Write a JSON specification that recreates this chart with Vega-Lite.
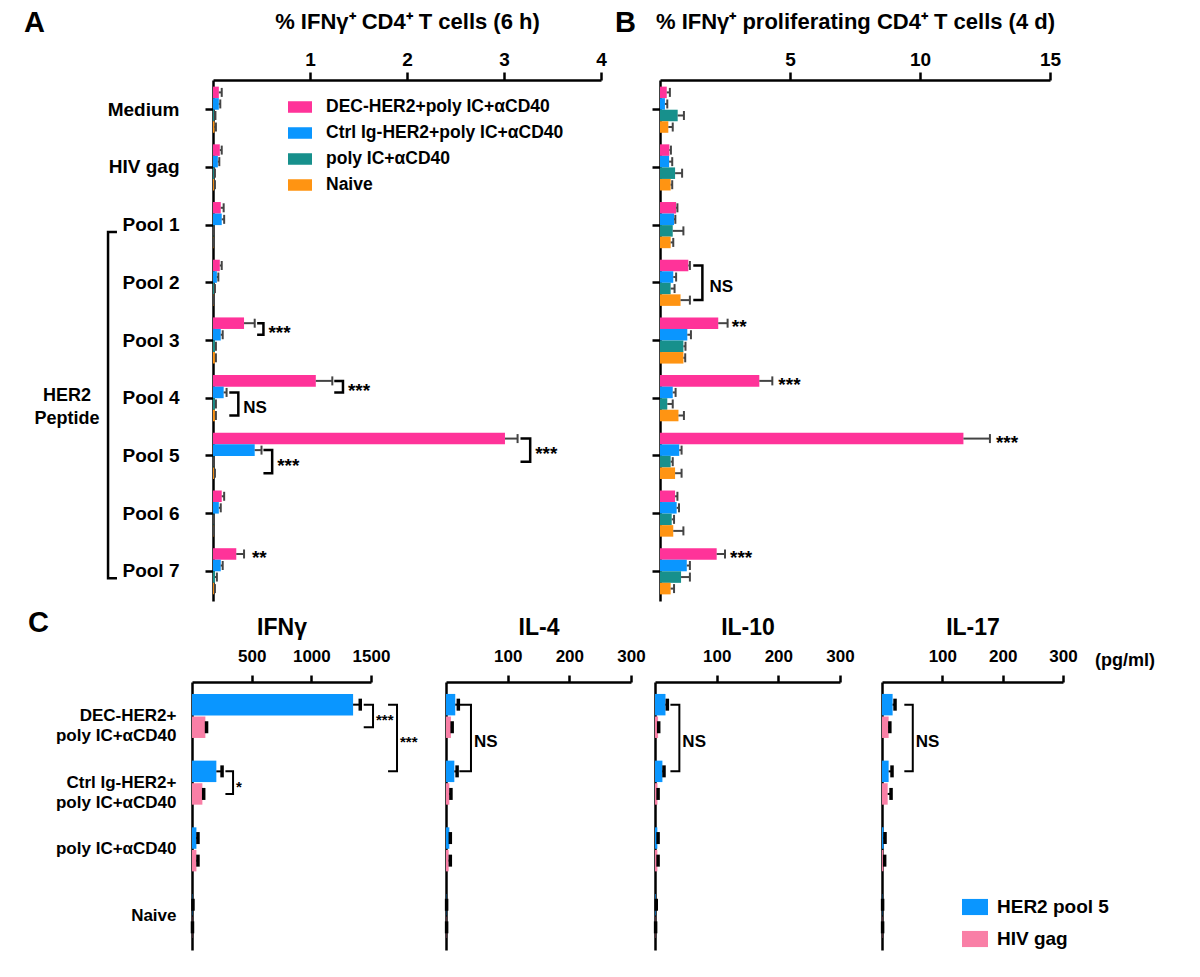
{
"$schema": "https://vega.github.io/schema/vega-lite/v6.json",
"padding": {"left": 24, "top": 9, "right": 10, "bottom": 5},
"config": {
  "font": "Liberation Sans",
  "view": {"stroke": null},
  "axis": {"grid": false, "domainColor": "#000", "domainWidth": 2.5, "tickColor": "#000", "tickWidth": 2.5, "labelColor": "#000", "labelFontWeight": "bold", "titleColor": "#000", "titleFontWeight": "bold", "labelFont": "Liberation Sans", "titleFont": "Liberation Sans"},
  "title": {"font": "Liberation Sans", "fontWeight": "bold", "color": "#000", "offset": 0}
},
"datasets": {
  "A": [
    {"cat":"Medium","grp":"DEC-HER2+poly IC+αCD40","v":0.06,"hi":0.09},
    {"cat":"Medium","grp":"Ctrl Ig-HER2+poly IC+αCD40","v":0.06,"hi":0.075},
    {"cat":"Medium","grp":"poly IC+αCD40","v":0.01,"hi":0.025},
    {"cat":"Medium","grp":"Naive","v":0.015,"hi":0.03},
    {"cat":"HIV gag","grp":"DEC-HER2+poly IC+αCD40","v":0.07,"hi":0.09},
    {"cat":"HIV gag","grp":"Ctrl Ig-HER2+poly IC+αCD40","v":0.05,"hi":0.065},
    {"cat":"HIV gag","grp":"poly IC+αCD40","v":0.01,"hi":0.02},
    {"cat":"HIV gag","grp":"Naive","v":0.01,"hi":0.02},
    {"cat":"Pool 1","grp":"DEC-HER2+poly IC+αCD40","v":0.08,"hi":0.11},
    {"cat":"Pool 1","grp":"Ctrl Ig-HER2+poly IC+αCD40","v":0.09,"hi":0.115},
    {"cat":"Pool 1","grp":"poly IC+αCD40","v":0.005,"hi":0.01},
    {"cat":"Pool 1","grp":"Naive","v":0.005,"hi":0.01},
    {"cat":"Pool 2","grp":"DEC-HER2+poly IC+αCD40","v":0.07,"hi":0.09},
    {"cat":"Pool 2","grp":"Ctrl Ig-HER2+poly IC+αCD40","v":0.04,"hi":0.055},
    {"cat":"Pool 2","grp":"poly IC+αCD40","v":0.01,"hi":0.02},
    {"cat":"Pool 2","grp":"Naive","v":0.005,"hi":0.01},
    {"cat":"Pool 3","grp":"DEC-HER2+poly IC+αCD40","v":0.32,"hi":0.43},
    {"cat":"Pool 3","grp":"Ctrl Ig-HER2+poly IC+αCD40","v":0.08,"hi":0.10},
    {"cat":"Pool 3","grp":"poly IC+αCD40","v":0.02,"hi":0.03},
    {"cat":"Pool 3","grp":"Naive","v":0.02,"hi":0.03},
    {"cat":"Pool 4","grp":"DEC-HER2+poly IC+αCD40","v":1.06,"hi":1.23},
    {"cat":"Pool 4","grp":"Ctrl Ig-HER2+poly IC+αCD40","v":0.11,"hi":0.14},
    {"cat":"Pool 4","grp":"poly IC+αCD40","v":0.02,"hi":0.03},
    {"cat":"Pool 4","grp":"Naive","v":0.02,"hi":0.03},
    {"cat":"Pool 5","grp":"DEC-HER2+poly IC+αCD40","v":3.01,"hi":3.14},
    {"cat":"Pool 5","grp":"Ctrl Ig-HER2+poly IC+αCD40","v":0.43,"hi":0.50},
    {"cat":"Pool 5","grp":"poly IC+αCD40","v":0.005,"hi":0.01},
    {"cat":"Pool 5","grp":"Naive","v":0.01,"hi":0.02},
    {"cat":"Pool 6","grp":"DEC-HER2+poly IC+αCD40","v":0.09,"hi":0.115},
    {"cat":"Pool 6","grp":"Ctrl Ig-HER2+poly IC+αCD40","v":0.06,"hi":0.08},
    {"cat":"Pool 6","grp":"poly IC+αCD40","v":0.005,"hi":0.01},
    {"cat":"Pool 6","grp":"Naive","v":0.005,"hi":0.01},
    {"cat":"Pool 7","grp":"DEC-HER2+poly IC+αCD40","v":0.24,"hi":0.32},
    {"cat":"Pool 7","grp":"Ctrl Ig-HER2+poly IC+αCD40","v":0.08,"hi":0.10},
    {"cat":"Pool 7","grp":"poly IC+αCD40","v":0.02,"hi":0.04},
    {"cat":"Pool 7","grp":"Naive","v":0.01,"hi":0.02}
  ],
  "B": [
    {"cat":"Medium","grp":"DEC-HER2+poly IC+αCD40","v":0.26,"hi":0.38},
    {"cat":"Medium","grp":"Ctrl Ig-HER2+poly IC+αCD40","v":0.19,"hi":0.28},
    {"cat":"Medium","grp":"poly IC+αCD40","v":0.68,"hi":0.92},
    {"cat":"Medium","grp":"Naive","v":0.32,"hi":0.49},
    {"cat":"HIV gag","grp":"DEC-HER2+poly IC+αCD40","v":0.36,"hi":0.42},
    {"cat":"HIV gag","grp":"Ctrl Ig-HER2+poly IC+αCD40","v":0.35,"hi":0.47},
    {"cat":"HIV gag","grp":"poly IC+αCD40","v":0.58,"hi":0.85},
    {"cat":"HIV gag","grp":"Naive","v":0.41,"hi":0.47},
    {"cat":"Pool 1","grp":"DEC-HER2+poly IC+αCD40","v":0.62,"hi":0.67},
    {"cat":"Pool 1","grp":"Ctrl Ig-HER2+poly IC+αCD40","v":0.54,"hi":0.59},
    {"cat":"Pool 1","grp":"poly IC+αCD40","v":0.49,"hi":0.90},
    {"cat":"Pool 1","grp":"Naive","v":0.41,"hi":0.51},
    {"cat":"Pool 2","grp":"DEC-HER2+poly IC+αCD40","v":1.09,"hi":1.15},
    {"cat":"Pool 2","grp":"Ctrl Ig-HER2+poly IC+αCD40","v":0.51,"hi":0.62},
    {"cat":"Pool 2","grp":"poly IC+αCD40","v":0.41,"hi":0.56},
    {"cat":"Pool 2","grp":"Naive","v":0.79,"hi":1.15},
    {"cat":"Pool 3","grp":"DEC-HER2+poly IC+αCD40","v":2.24,"hi":2.60},
    {"cat":"Pool 3","grp":"Ctrl Ig-HER2+poly IC+αCD40","v":1.05,"hi":1.19},
    {"cat":"Pool 3","grp":"poly IC+αCD40","v":0.90,"hi":0.98},
    {"cat":"Pool 3","grp":"Naive","v":0.90,"hi":0.97},
    {"cat":"Pool 4","grp":"DEC-HER2+poly IC+αCD40","v":3.82,"hi":4.32},
    {"cat":"Pool 4","grp":"Ctrl Ig-HER2+poly IC+αCD40","v":0.49,"hi":0.60},
    {"cat":"Pool 4","grp":"poly IC+αCD40","v":0.28,"hi":0.49},
    {"cat":"Pool 4","grp":"Naive","v":0.71,"hi":0.92},
    {"cat":"Pool 5","grp":"DEC-HER2+poly IC+αCD40","v":11.67,"hi":12.69},
    {"cat":"Pool 5","grp":"Ctrl Ig-HER2+poly IC+αCD40","v":0.74,"hi":0.83},
    {"cat":"Pool 5","grp":"poly IC+αCD40","v":0.41,"hi":0.49},
    {"cat":"Pool 5","grp":"Naive","v":0.58,"hi":0.83},
    {"cat":"Pool 6","grp":"DEC-HER2+poly IC+αCD40","v":0.58,"hi":0.67},
    {"cat":"Pool 6","grp":"Ctrl Ig-HER2+poly IC+αCD40","v":0.64,"hi":0.73},
    {"cat":"Pool 6","grp":"poly IC+αCD40","v":0.45,"hi":0.54},
    {"cat":"Pool 6","grp":"Naive","v":0.51,"hi":0.90},
    {"cat":"Pool 7","grp":"DEC-HER2+poly IC+αCD40","v":2.18,"hi":2.50},
    {"cat":"Pool 7","grp":"Ctrl Ig-HER2+poly IC+αCD40","v":1.03,"hi":1.15},
    {"cat":"Pool 7","grp":"poly IC+αCD40","v":0.81,"hi":1.15},
    {"cat":"Pool 7","grp":"Naive","v":0.41,"hi":0.54}
  ],
  "brA": [
    {"cat":"Pool 3","cls":"pb","xb":0.52,"label":"***"},
    {"cat":"Pool 4","cls":"pb","xb":1.34,"label":"***"},
    {"cat":"Pool 4","cls":"bo","xb":0.261,"label":"NS"},
    {"cat":"Pool 5","cls":"pt","xb":3.27,"label":"***"},
    {"cat":"Pool 5","cls":"bo","xb":0.61,"label":"***"},
    {"cat":"Pool 7","cls":"p","xb":0.35,"label":"**"}
  ],
  "brkA": [
    {"id":"a1","k":1,"cat":"Pool 3","grp":"DEC-HER2+poly IC+αCD40","x":0.455},
    {"id":"a1","k":2,"cat":"Pool 3","grp":"DEC-HER2+poly IC+αCD40","x":0.52},
    {"id":"a1","k":3,"cat":"Pool 3","grp":"Ctrl Ig-HER2+poly IC+αCD40","x":0.52},
    {"id":"a1","k":4,"cat":"Pool 3","grp":"Ctrl Ig-HER2+poly IC+αCD40","x":0.455},
    {"id":"a2","k":1,"cat":"Pool 4","grp":"DEC-HER2+poly IC+αCD40","x":1.25},
    {"id":"a2","k":2,"cat":"Pool 4","grp":"DEC-HER2+poly IC+αCD40","x":1.34},
    {"id":"a2","k":3,"cat":"Pool 4","grp":"Ctrl Ig-HER2+poly IC+αCD40","x":1.34},
    {"id":"a2","k":4,"cat":"Pool 4","grp":"Ctrl Ig-HER2+poly IC+αCD40","x":1.25},
    {"id":"a3","k":1,"cat":"Pool 4","grp":"Ctrl Ig-HER2+poly IC+αCD40","x":0.168},
    {"id":"a3","k":2,"cat":"Pool 4","grp":"Ctrl Ig-HER2+poly IC+αCD40","x":0.261},
    {"id":"a3","k":3,"cat":"Pool 4","grp":"Naive","x":0.261},
    {"id":"a3","k":4,"cat":"Pool 4","grp":"Naive","x":0.168},
    {"id":"a4","k":1,"cat":"Pool 5","grp":"DEC-HER2+poly IC+αCD40","x":3.17},
    {"id":"a4","k":2,"cat":"Pool 5","grp":"DEC-HER2+poly IC+αCD40","x":3.27},
    {"id":"a4","k":3,"cat":"Pool 5","grp":"poly IC+αCD40","x":3.27},
    {"id":"a4","k":4,"cat":"Pool 5","grp":"poly IC+αCD40","x":3.17},
    {"id":"a5","k":1,"cat":"Pool 5","grp":"Ctrl Ig-HER2+poly IC+αCD40","x":0.52},
    {"id":"a5","k":2,"cat":"Pool 5","grp":"Ctrl Ig-HER2+poly IC+αCD40","x":0.61},
    {"id":"a5","k":3,"cat":"Pool 5","grp":"Naive","x":0.61},
    {"id":"a5","k":4,"cat":"Pool 5","grp":"Naive","x":0.52}
  ],
  "her2": [
    {"k":1,"cat":"Pool 1","x":-0.99},
    {"k":2,"cat":"Pool 1","x":-1.082},
    {"k":3,"cat":"Pool 7","x":-1.082},
    {"k":4,"cat":"Pool 7","x":-0.99}
  ],
  "brB": [
    {"cat":"Pool 2","cls":"po","xb":1.63,"label":"NS"},
    {"cat":"Pool 3","cls":"p","xb":2.57,"label":"**"},
    {"cat":"Pool 4","cls":"p","xb":4.36,"label":"***"},
    {"cat":"Pool 5","cls":"p","xb":12.73,"label":"***"},
    {"cat":"Pool 7","cls":"p","xb":2.5,"label":"***"}
  ],
  "brkB": [
    {"id":"b1","k":1,"cat":"Pool 2","grp":"DEC-HER2+poly IC+αCD40","x":1.28},
    {"id":"b1","k":2,"cat":"Pool 2","grp":"DEC-HER2+poly IC+αCD40","x":1.63},
    {"id":"b1","k":3,"cat":"Pool 2","grp":"Naive","x":1.63},
    {"id":"b1","k":4,"cat":"Pool 2","grp":"Naive","x":1.28}
  ],
  "C": [
    {"cyt":"IFNγ","cat":"DEC-HER2+ poly IC+αCD40","grp":"HER2 pool 5","v":1350,"hi":1410},
    {"cyt":"IFNγ","cat":"DEC-HER2+ poly IC+αCD40","grp":"HIV gag","v":112,"hi":122},
    {"cyt":"IFNγ","cat":"Ctrl Ig-HER2+ poly IC+αCD40","grp":"HER2 pool 5","v":204,"hi":252},
    {"cyt":"IFNγ","cat":"Ctrl Ig-HER2+ poly IC+αCD40","grp":"HIV gag","v":87,"hi":98},
    {"cyt":"IFNγ","cat":"poly IC+αCD40","grp":"HER2 pool 5","v":37,"hi":50},
    {"cyt":"IFNγ","cat":"poly IC+αCD40","grp":"HIV gag","v":37,"hi":50},
    {"cyt":"IFNγ","cat":"Naive","grp":"HER2 pool 5","v":3,"hi":8},
    {"cyt":"IFNγ","cat":"Naive","grp":"HIV gag","v":2,"hi":4},
    {"cyt":"IL-4","cat":"DEC-HER2+ poly IC+αCD40","grp":"HER2 pool 5","v":15,"hi":20},
    {"cyt":"IL-4","cat":"DEC-HER2+ poly IC+αCD40","grp":"HIV gag","v":8,"hi":10},
    {"cyt":"IL-4","cat":"Ctrl Ig-HER2+ poly IC+αCD40","grp":"HER2 pool 5","v":13.5,"hi":18},
    {"cyt":"IL-4","cat":"Ctrl Ig-HER2+ poly IC+αCD40","grp":"HIV gag","v":5.4,"hi":8},
    {"cyt":"IL-4","cat":"poly IC+αCD40","grp":"HER2 pool 5","v":5.4,"hi":7},
    {"cyt":"IL-4","cat":"poly IC+αCD40","grp":"HIV gag","v":4.3,"hi":7},
    {"cyt":"IL-4","cat":"Naive","grp":"HER2 pool 5","v":0.5,"hi":1},
    {"cyt":"IL-4","cat":"Naive","grp":"HIV gag","v":0.5,"hi":1},
    {"cyt":"IL-10","cat":"DEC-HER2+ poly IC+αCD40","grp":"HER2 pool 5","v":17,"hi":20},
    {"cyt":"IL-10","cat":"DEC-HER2+ poly IC+αCD40","grp":"HIV gag","v":5,"hi":6},
    {"cyt":"IL-10","cat":"Ctrl Ig-HER2+ poly IC+αCD40","grp":"HER2 pool 5","v":12,"hi":14.6},
    {"cyt":"IL-10","cat":"Ctrl Ig-HER2+ poly IC+αCD40","grp":"HIV gag","v":4,"hi":5},
    {"cyt":"IL-10","cat":"poly IC+αCD40","grp":"HER2 pool 5","v":3.8,"hi":5},
    {"cyt":"IL-10","cat":"poly IC+αCD40","grp":"HIV gag","v":3.8,"hi":5},
    {"cyt":"IL-10","cat":"Naive","grp":"HER2 pool 5","v":1,"hi":2},
    {"cyt":"IL-10","cat":"Naive","grp":"HIV gag","v":0.5,"hi":1},
    {"cyt":"IL-17","cat":"DEC-HER2+ poly IC+αCD40","grp":"HER2 pool 5","v":17.6,"hi":21.6},
    {"cyt":"IL-17","cat":"DEC-HER2+ poly IC+αCD40","grp":"HIV gag","v":11,"hi":13},
    {"cyt":"IL-17","cat":"Ctrl Ig-HER2+ poly IC+αCD40","grp":"HER2 pool 5","v":11,"hi":16.6},
    {"cyt":"IL-17","cat":"Ctrl Ig-HER2+ poly IC+αCD40","grp":"HIV gag","v":9.4,"hi":15},
    {"cyt":"IL-17","cat":"poly IC+αCD40","grp":"HER2 pool 5","v":2.7,"hi":5},
    {"cyt":"IL-17","cat":"poly IC+αCD40","grp":"HIV gag","v":2.2,"hi":4.4},
    {"cyt":"IL-17","cat":"Naive","grp":"HER2 pool 5","v":0.5,"hi":1},
    {"cyt":"IL-17","cat":"Naive","grp":"HIV gag","v":0.5,"hi":1}
  ],
  "brC": [
    {"cyt":"IFNγ","cat":"DEC-HER2+ poly IC+αCD40","cls":"bp","xb":1517,"label":"***"},
    {"cyt":"IFNγ","cat":"DEC-HER2+ poly IC+αCD40","cls":"big","xb":1718,"label":"***"},
    {"cyt":"IFNγ","cat":"Ctrl Ig-HER2+ poly IC+αCD40","cls":"bp","xb":344,"label":"*"},
    {"cyt":"IL-4","cat":"DEC-HER2+ poly IC+αCD40","cls":"big","xb":40.5,"label":"NS"},
    {"cyt":"IL-10","cat":"DEC-HER2+ poly IC+αCD40","cls":"big","xb":39.5,"label":"NS"},
    {"cyt":"IL-17","cat":"DEC-HER2+ poly IC+αCD40","cls":"big","xb":51,"label":"NS"}
  ],
  "brkC": [
    {"cyt":"IFNγ","id":"c1","k":1,"cat":"DEC-HER2+ poly IC+αCD40","grp":"HER2 pool 5","x":1439},
    {"cyt":"IFNγ","id":"c1","k":2,"cat":"DEC-HER2+ poly IC+αCD40","grp":"HER2 pool 5","x":1517},
    {"cyt":"IFNγ","id":"c1","k":3,"cat":"DEC-HER2+ poly IC+αCD40","grp":"HIV gag","x":1517},
    {"cyt":"IFNγ","id":"c1","k":4,"cat":"DEC-HER2+ poly IC+αCD40","grp":"HIV gag","x":1439},
    {"cyt":"IFNγ","id":"c2","k":1,"cat":"DEC-HER2+ poly IC+αCD40","grp":"HER2 pool 5","x":1643},
    {"cyt":"IFNγ","id":"c2","k":2,"cat":"DEC-HER2+ poly IC+αCD40","grp":"HER2 pool 5","x":1718},
    {"cyt":"IFNγ","id":"c2","k":3,"cat":"Ctrl Ig-HER2+ poly IC+αCD40","grp":"HER2 pool 5","x":1718},
    {"cyt":"IFNγ","id":"c2","k":4,"cat":"Ctrl Ig-HER2+ poly IC+αCD40","grp":"HER2 pool 5","x":1643},
    {"cyt":"IFNγ","id":"c3","k":1,"cat":"Ctrl Ig-HER2+ poly IC+αCD40","grp":"HER2 pool 5","x":280},
    {"cyt":"IFNγ","id":"c3","k":2,"cat":"Ctrl Ig-HER2+ poly IC+αCD40","grp":"HER2 pool 5","x":344},
    {"cyt":"IFNγ","id":"c3","k":3,"cat":"Ctrl Ig-HER2+ poly IC+αCD40","grp":"HIV gag","x":344},
    {"cyt":"IFNγ","id":"c3","k":4,"cat":"Ctrl Ig-HER2+ poly IC+αCD40","grp":"HIV gag","x":280},
    {"cyt":"IL-4","id":"c4","k":1,"cat":"DEC-HER2+ poly IC+αCD40","grp":"HER2 pool 5","x":21.6},
    {"cyt":"IL-4","id":"c4","k":2,"cat":"DEC-HER2+ poly IC+αCD40","grp":"HER2 pool 5","x":40.5},
    {"cyt":"IL-4","id":"c4","k":3,"cat":"Ctrl Ig-HER2+ poly IC+αCD40","grp":"HER2 pool 5","x":40.5},
    {"cyt":"IL-4","id":"c4","k":4,"cat":"Ctrl Ig-HER2+ poly IC+αCD40","grp":"HER2 pool 5","x":21.6},
    {"cyt":"IL-10","id":"c5","k":1,"cat":"DEC-HER2+ poly IC+αCD40","grp":"HER2 pool 5","x":25},
    {"cyt":"IL-10","id":"c5","k":2,"cat":"DEC-HER2+ poly IC+αCD40","grp":"HER2 pool 5","x":39.5},
    {"cyt":"IL-10","id":"c5","k":3,"cat":"Ctrl Ig-HER2+ poly IC+αCD40","grp":"HER2 pool 5","x":39.5},
    {"cyt":"IL-10","id":"c5","k":4,"cat":"Ctrl Ig-HER2+ poly IC+αCD40","grp":"HER2 pool 5","x":25},
    {"cyt":"IL-17","id":"c6","k":1,"cat":"DEC-HER2+ poly IC+αCD40","grp":"HER2 pool 5","x":37},
    {"cyt":"IL-17","id":"c6","k":2,"cat":"DEC-HER2+ poly IC+αCD40","grp":"HER2 pool 5","x":51},
    {"cyt":"IL-17","id":"c6","k":3,"cat":"Ctrl Ig-HER2+ poly IC+αCD40","grp":"HER2 pool 5","x":51},
    {"cyt":"IL-17","id":"c6","k":4,"cat":"Ctrl Ig-HER2+ poly IC+αCD40","grp":"HER2 pool 5","x":37}
  ]
},
"resolve": {"scale": {"color": "independent", "yOffset": "independent"}, "legend": {"color": "independent"}},
"bounds": "full",
"spacing": 7,
"vconcat": [
 {
  "bounds": "flush", "spacing": 0,
  "resolve": {"scale": {"color": "independent", "yOffset": "independent"}, "legend": {"color": "independent"}},
  "hconcat": [
   {"width": 21, "height": 10, "data": {"values": [{}]}, "mark": {"type": "text", "text": ""}, "encoding": {}},
   {
    "bounds": "flush", "spacing": 59,
    "resolve": {"scale": {"color": "independent", "yOffset": "independent"}, "legend": {"color": "independent"}},
    "hconcat": [
     {
      "width": 388, "height": 521,
      "title": {"text": "A", "anchor": "start", "frame": "group", "dx": -189, "dy": 32, "fontSize": 29},
      "layer": [
       {"data": {"name": "A"}, "mark": {"type": "bar", "opacity": 1},
        "encoding": {
         "y": {"field": "cat", "type": "nominal", "scale": {"domain": ["Medium","HIV gag","Pool 1","Pool 2","Pool 3","Pool 4","Pool 5","Pool 6","Pool 7"], "paddingInner": 0.2, "paddingOuter": 0.115},
               "axis": {"title": null, "labelFontSize": 19, "tickSize": 8, "labelPadding": 26, "labelOverlap": false}},
         "yOffset": {"field": "grp", "type": "nominal", "scale": {"domain": ["DEC-HER2+poly IC+αCD40","Ctrl Ig-HER2+poly IC+αCD40","poly IC+αCD40","Naive"], "paddingInner": 0, "paddingOuter": 0}},
         "x": {"field": "v", "type": "quantitative", "stack": null, "scale": {"domain": [0, 4], "nice": false, "zero": false},
               "axis": {"orient": "top", "values": [1,2,3,4], "format": "d", "title": "% IFNγ⁺ CD4⁺ T cells (6 h)", "titleFontSize": 22, "labelFontSize": 19, "tickSize": 8, "labelPadding": 3, "titlePadding": 17, "labelFlush": false, "labelOverlap": false}},
         "color": {"field": "grp", "type": "nominal", "scale": {"domain": ["DEC-HER2+poly IC+αCD40","Ctrl Ig-HER2+poly IC+αCD40","poly IC+αCD40","Naive"], "range": ["#FF3399","#0A96FF","#17908C","#FF9412"]},
               "legend": {"orient": "none", "legendX": 75, "legendY": 15, "direction": "vertical", "title": null, "symbolType": "M-1,-0.48H1V0.48H-1Z", "symbolSize": 576, "symbolStrokeWidth": 0, "labelFontSize": 17.5, "labelFontWeight": "bold", "labelFont": "Liberation Sans", "labelColor": "#000", "labelOffset": 14, "rowPadding": 5, "labelLimit": 500}}
        }},
       {"data": {"name": "A"}, "mark": {"type": "rule", "color": "#444", "strokeWidth": 2, "opacity": 1},
        "encoding": {
         "y": {"field": "cat", "type": "nominal", "scale": {"domain": ["Medium","HIV gag","Pool 1","Pool 2","Pool 3","Pool 4","Pool 5","Pool 6","Pool 7"], "paddingInner": 0.2, "paddingOuter": 0.115}},
         "yOffset": {"field": "grp", "type": "nominal", "scale": {"domain": ["DEC-HER2+poly IC+αCD40","Ctrl Ig-HER2+poly IC+αCD40","poly IC+αCD40","Naive"], "paddingInner": 0, "paddingOuter": 0}},
         "x": {"field": "v", "type": "quantitative", "scale": {"domain": [0, 4], "nice": false, "zero": false}},
         "x2": {"field": "hi"}
        }},
       {"data": {"name": "A"}, "mark": {"type": "tick", "color": "#444", "thickness": 2, "size": 9, "opacity": 1},
        "encoding": {
         "y": {"field": "cat", "type": "nominal", "scale": {"domain": ["Medium","HIV gag","Pool 1","Pool 2","Pool 3","Pool 4","Pool 5","Pool 6","Pool 7"], "paddingInner": 0.2, "paddingOuter": 0.115}},
         "yOffset": {"field": "grp", "type": "nominal", "scale": {"domain": ["DEC-HER2+poly IC+αCD40","Ctrl Ig-HER2+poly IC+αCD40","poly IC+αCD40","Naive"], "paddingInner": 0, "paddingOuter": 0}},
         "x": {"field": "hi", "type": "quantitative", "scale": {"domain": [0, 4], "nice": false, "zero": false}}
        }},
       {"data": {"name": "brkA"}, "mark": {"type": "line", "color": "#000", "strokeWidth": 2.5, "strokeJoin": "miter", "opacity": 1},
        "encoding": {
         "y": {"field": "cat", "type": "nominal", "scale": {"domain": ["Medium","HIV gag","Pool 1","Pool 2","Pool 3","Pool 4","Pool 5","Pool 6","Pool 7"], "paddingInner": 0.2, "paddingOuter": 0.115}},
         "yOffset": {"field": "grp", "type": "nominal", "scale": {"domain": ["DEC-HER2+poly IC+αCD40","Ctrl Ig-HER2+poly IC+αCD40","poly IC+αCD40","Naive"], "paddingInner": 0, "paddingOuter": 0}},
         "x": {"field": "x", "type": "quantitative", "scale": {"domain": [0, 4], "nice": false, "zero": false}},
         "detail": {"field": "id"},
         "order": {"field": "k"}
        }},
       {"data": {"name": "brA"}, "transform": [{"filter": "datum.cls == 'pb'"}],
        "mark": {"type": "text", "align": "left", "baseline": "middle", "dx": 5, "dy": 4, "fontWeight": "bold", "opacity": 1},
        "encoding": {
         "y": {"field": "cat", "type": "nominal", "bandPosition": 0.25, "scale": {"domain": ["Medium","HIV gag","Pool 1","Pool 2","Pool 3","Pool 4","Pool 5","Pool 6","Pool 7"], "paddingInner": 0.2, "paddingOuter": 0.115}},
         "x": {"field": "xb", "type": "quantitative", "scale": {"domain": [0, 4], "nice": false, "zero": false}},
         "text": {"field": "label"},
         "size": {"condition": {"test": "datum.label == 'NS'", "value": 17}, "value": 19}
        }},
       {"data": {"name": "brA"}, "transform": [{"filter": "datum.cls == 'pt'"}],
        "mark": {"type": "text", "align": "left", "baseline": "middle", "dx": 5, "dy": 4, "fontWeight": "bold", "opacity": 1},
        "encoding": {
         "y": {"field": "cat", "type": "nominal", "bandPosition": 0.375, "scale": {"domain": ["Medium","HIV gag","Pool 1","Pool 2","Pool 3","Pool 4","Pool 5","Pool 6","Pool 7"], "paddingInner": 0.2, "paddingOuter": 0.115}},
         "x": {"field": "xb", "type": "quantitative", "scale": {"domain": [0, 4], "nice": false, "zero": false}},
         "text": {"field": "label"},
         "size": {"condition": {"test": "datum.label == 'NS'", "value": 17}, "value": 19}
        }},
       {"data": {"name": "brA"}, "transform": [{"filter": "datum.cls == 'bo'"}],
        "mark": {"type": "text", "align": "left", "baseline": "middle", "dx": 5, "dy": 4, "fontWeight": "bold", "opacity": 1},
        "encoding": {
         "y": {"field": "cat", "type": "nominal", "bandPosition": 0.625, "scale": {"domain": ["Medium","HIV gag","Pool 1","Pool 2","Pool 3","Pool 4","Pool 5","Pool 6","Pool 7"], "paddingInner": 0.2, "paddingOuter": 0.115}},
         "x": {"field": "xb", "type": "quantitative", "scale": {"domain": [0, 4], "nice": false, "zero": false}},
         "text": {"field": "label"},
         "size": {"condition": {"test": "datum.label == 'NS'", "value": 17}, "value": 19}
        }},
       {"data": {"name": "brA"}, "transform": [{"filter": "datum.cls == 'p'"}],
        "mark": {"type": "text", "align": "left", "baseline": "middle", "dx": 5, "dy": 4, "fontWeight": "bold", "opacity": 1},
        "encoding": {
         "y": {"field": "cat", "type": "nominal", "bandPosition": 0.125, "scale": {"domain": ["Medium","HIV gag","Pool 1","Pool 2","Pool 3","Pool 4","Pool 5","Pool 6","Pool 7"], "paddingInner": 0.2, "paddingOuter": 0.115}},
         "x": {"field": "xb", "type": "quantitative", "scale": {"domain": [0, 4], "nice": false, "zero": false}},
         "text": {"field": "label"},
         "size": {"condition": {"test": "datum.label == 'NS'", "value": 17}, "value": 19}
        }},
       {"data": {"name": "her2"}, "mark": {"type": "line", "color": "#000", "strokeWidth": 2.5, "strokeJoin": "miter", "opacity": 1},
        "encoding": {
         "y": {"field": "cat", "type": "nominal", "bandPosition": 0.65, "scale": {"domain": ["Medium","HIV gag","Pool 1","Pool 2","Pool 3","Pool 4","Pool 5","Pool 6","Pool 7"], "paddingInner": 0.2, "paddingOuter": 0.115}},
         "x": {"field": "x", "type": "quantitative", "scale": {"domain": [0, 4], "nice": false, "zero": false}},
         "order": {"field": "k"}
        }},
       {"data": {"values": [{"cat": "Pool 4", "label": "HER2\nPeptide"}]},
        "mark": {"type": "text", "align": "center", "baseline": "middle", "lineBreak": "\n", "lineHeight": 23, "fontSize": 18, "fontWeight": "bold", "opacity": 1},
        "encoding": {
         "y": {"field": "cat", "type": "nominal", "bandPosition": 0.45, "scale": {"domain": ["Medium","HIV gag","Pool 1","Pool 2","Pool 3","Pool 4","Pool 5","Pool 6","Pool 7"], "paddingInner": 0.2, "paddingOuter": 0.115}},
         "x": {"datum": -1.505, "type": "quantitative", "scale": {"domain": [0, 4], "nice": false, "zero": false}},
         "text": {"field": "label"}
        }}
      ]
     },
     {
      "width": 390, "height": 521,
      "title": {"text": "B", "anchor": "start", "frame": "group", "dx": -45, "dy": 32, "fontSize": 29},
      "layer": [
       {"data": {"name": "B"}, "mark": {"type": "bar", "opacity": 1},
        "encoding": {
         "y": {"field": "cat", "type": "nominal", "scale": {"domain": ["Medium","HIV gag","Pool 1","Pool 2","Pool 3","Pool 4","Pool 5","Pool 6","Pool 7"], "paddingInner": 0.2, "paddingOuter": 0.115},
               "axis": {"title": null, "labels": false, "tickSize": 8}},
         "yOffset": {"field": "grp", "type": "nominal", "scale": {"domain": ["DEC-HER2+poly IC+αCD40","Ctrl Ig-HER2+poly IC+αCD40","poly IC+αCD40","Naive"], "paddingInner": 0, "paddingOuter": 0}},
         "x": {"field": "v", "type": "quantitative", "stack": null, "scale": {"domain": [0, 15], "nice": false, "zero": false},
               "axis": {"orient": "top", "values": [5,10,15], "format": "d", "title": "% IFNγ⁺ proliferating CD4⁺ T cells (4 d)", "titleFontSize": 22, "labelFontSize": 19, "tickSize": 8, "labelPadding": 3, "titlePadding": 17, "labelFlush": false, "labelOverlap": false}},
         "color": {"field": "grp", "type": "nominal", "scale": {"domain": ["DEC-HER2+poly IC+αCD40","Ctrl Ig-HER2+poly IC+αCD40","poly IC+αCD40","Naive"], "range": ["#FF3399","#0A96FF","#17908C","#FF9412"]}, "legend": null}
        }},
       {"data": {"name": "B"}, "mark": {"type": "rule", "color": "#444", "strokeWidth": 2, "opacity": 1},
        "encoding": {
         "y": {"field": "cat", "type": "nominal", "scale": {"domain": ["Medium","HIV gag","Pool 1","Pool 2","Pool 3","Pool 4","Pool 5","Pool 6","Pool 7"], "paddingInner": 0.2, "paddingOuter": 0.115}},
         "yOffset": {"field": "grp", "type": "nominal", "scale": {"domain": ["DEC-HER2+poly IC+αCD40","Ctrl Ig-HER2+poly IC+αCD40","poly IC+αCD40","Naive"], "paddingInner": 0, "paddingOuter": 0}},
         "x": {"field": "v", "type": "quantitative", "scale": {"domain": [0, 15], "nice": false, "zero": false}},
         "x2": {"field": "hi"}
        }},
       {"data": {"name": "B"}, "mark": {"type": "tick", "color": "#444", "thickness": 2, "size": 9, "opacity": 1},
        "encoding": {
         "y": {"field": "cat", "type": "nominal", "scale": {"domain": ["Medium","HIV gag","Pool 1","Pool 2","Pool 3","Pool 4","Pool 5","Pool 6","Pool 7"], "paddingInner": 0.2, "paddingOuter": 0.115}},
         "yOffset": {"field": "grp", "type": "nominal", "scale": {"domain": ["DEC-HER2+poly IC+αCD40","Ctrl Ig-HER2+poly IC+αCD40","poly IC+αCD40","Naive"], "paddingInner": 0, "paddingOuter": 0}},
         "x": {"field": "hi", "type": "quantitative", "scale": {"domain": [0, 15], "nice": false, "zero": false}}
        }},
       {"data": {"name": "brkB"}, "mark": {"type": "line", "color": "#000", "strokeWidth": 2.5, "strokeJoin": "miter", "opacity": 1},
        "encoding": {
         "y": {"field": "cat", "type": "nominal", "scale": {"domain": ["Medium","HIV gag","Pool 1","Pool 2","Pool 3","Pool 4","Pool 5","Pool 6","Pool 7"], "paddingInner": 0.2, "paddingOuter": 0.115}},
         "yOffset": {"field": "grp", "type": "nominal", "scale": {"domain": ["DEC-HER2+poly IC+αCD40","Ctrl Ig-HER2+poly IC+αCD40","poly IC+αCD40","Naive"], "paddingInner": 0, "paddingOuter": 0}},
         "x": {"field": "x", "type": "quantitative", "scale": {"domain": [0, 15], "nice": false, "zero": false}},
         "detail": {"field": "id"},
         "order": {"field": "k"}
        }},
       {"data": {"name": "brB"}, "transform": [{"filter": "datum.cls == 'po'"}],
        "mark": {"type": "text", "align": "left", "baseline": "middle", "dx": 7, "dy": 4, "fontWeight": "bold", "opacity": 1},
        "encoding": {
         "y": {"field": "cat", "type": "nominal", "bandPosition": 0.5, "scale": {"domain": ["Medium","HIV gag","Pool 1","Pool 2","Pool 3","Pool 4","Pool 5","Pool 6","Pool 7"], "paddingInner": 0.2, "paddingOuter": 0.115}},
         "x": {"field": "xb", "type": "quantitative", "scale": {"domain": [0, 15], "nice": false, "zero": false}},
         "text": {"field": "label"},
         "size": {"condition": {"test": "datum.label == 'NS'", "value": 17}, "value": 19}
        }},
       {"data": {"name": "brB"}, "transform": [{"filter": "datum.cls == 'p'"}],
        "mark": {"type": "text", "align": "left", "baseline": "middle", "dx": 5, "dy": 4, "fontWeight": "bold", "opacity": 1},
        "encoding": {
         "y": {"field": "cat", "type": "nominal", "bandPosition": 0.125, "scale": {"domain": ["Medium","HIV gag","Pool 1","Pool 2","Pool 3","Pool 4","Pool 5","Pool 6","Pool 7"], "paddingInner": 0.2, "paddingOuter": 0.115}},
         "x": {"field": "xb", "type": "quantitative", "scale": {"domain": [0, 15], "nice": false, "zero": false}},
         "text": {"field": "label"},
         "size": {"condition": {"test": "datum.label == 'NS'", "value": 17}, "value": 19}
        }}
      ]
     }
    ]
   }
  ]
 },
 {
  "bounds": "flush", "spacing": 75,
  "resolve": {"scale": {"color": "independent", "yOffset": "independent"}, "legend": {"color": "independent"}},
  "hconcat": [
   {
    "width": 179, "height": 268,
    "title": {"text": "C", "anchor": "start", "frame": "group", "dx": -164, "dy": 25, "fontSize": 29},
    "layer": [
     {"data": {"name": "C"}, "transform": [{"filter": "datum.cyt == 'IFNγ'"}], "mark": {"type": "bar", "opacity": 1},
      "encoding": {
       "y": {"field": "cat", "type": "nominal", "scale": {"domain": ["DEC-HER2+ poly IC+αCD40","Ctrl Ig-HER2+ poly IC+αCD40","poly IC+αCD40","Naive"], "paddingInner": 0.34, "paddingOuter": 0.179},
             "axis": {"title": null, "ticks": false, "tickSize": 0, "labelPadding": 16, "labelOffset": 0, "labelFontSize": 17, "labelLineHeight": 20, "labelOverlap": false, "labelLimit": 300,
                      "labelExpr": "datum.value == 'DEC-HER2+ poly IC+αCD40' ? ['DEC-HER2+', 'poly IC+αCD40'] : datum.value == 'Ctrl Ig-HER2+ poly IC+αCD40' ? ['Ctrl Ig-HER2+', 'poly IC+αCD40'] : datum.value"}},
       "yOffset": {"field": "grp", "type": "nominal", "scale": {"domain": ["HER2 pool 5","HIV gag"], "paddingInner": 0.05, "paddingOuter": 0}},
       "x": {"field": "v", "type": "quantitative", "stack": null, "scale": {"domain": [0, 1500], "nice": false, "zero": false},
             "axis": {"orient": "top", "values": [500,1000,1500], "format": "d", "title": "IFNγ", "titleFontSize": 23, "labelFontSize": 17, "tickSize": 7, "labelPadding": 10, "titlePadding": 7.5, "labelFlush": false, "labelOverlap": false}},
       "color": {"field": "grp", "type": "nominal", "scale": {"domain": ["HER2 pool 5","HIV gag"], "range": ["#0A96FF","#F97FA6"]}, "legend": null}
      }},
     {"data": {"name": "C"}, "transform": [{"filter": "datum.cyt == 'IFNγ'"}], "mark": {"type": "rule", "color": "#000", "strokeWidth": 2, "opacity": 1},
      "encoding": {
       "y": {"field": "cat", "type": "nominal", "scale": {"domain": ["DEC-HER2+ poly IC+αCD40","Ctrl Ig-HER2+ poly IC+αCD40","poly IC+αCD40","Naive"], "paddingInner": 0.34, "paddingOuter": 0.179}},
       "yOffset": {"field": "grp", "type": "nominal", "scale": {"domain": ["HER2 pool 5","HIV gag"], "paddingInner": 0.05, "paddingOuter": 0}},
       "x": {"field": "v", "type": "quantitative", "scale": {"domain": [0, 1500], "nice": false, "zero": false}},
       "x2": {"field": "hi"}
      }},
     {"data": {"name": "C"}, "transform": [{"filter": "datum.cyt == 'IFNγ'"}], "mark": {"type": "tick", "color": "#000", "thickness": 3.5, "size": 12, "opacity": 1},
      "encoding": {
       "y": {"field": "cat", "type": "nominal", "scale": {"domain": ["DEC-HER2+ poly IC+αCD40","Ctrl Ig-HER2+ poly IC+αCD40","poly IC+αCD40","Naive"], "paddingInner": 0.34, "paddingOuter": 0.179}},
       "yOffset": {"field": "grp", "type": "nominal", "scale": {"domain": ["HER2 pool 5","HIV gag"], "paddingInner": 0.05, "paddingOuter": 0}},
       "x": {"field": "hi", "type": "quantitative", "scale": {"domain": [0, 1500], "nice": false, "zero": false}}
      }},
     {"data": {"name": "brkC"}, "transform": [{"filter": "datum.cyt == 'IFNγ'"}], "mark": {"type": "line", "color": "#000", "strokeWidth": 2, "strokeJoin": "miter", "opacity": 1},
      "encoding": {
       "y": {"field": "cat", "type": "nominal", "scale": {"domain": ["DEC-HER2+ poly IC+αCD40","Ctrl Ig-HER2+ poly IC+αCD40","poly IC+αCD40","Naive"], "paddingInner": 0.34, "paddingOuter": 0.179}},
       "yOffset": {"field": "grp", "type": "nominal", "scale": {"domain": ["HER2 pool 5","HIV gag"], "paddingInner": 0.05, "paddingOuter": 0}},
       "x": {"field": "x", "type": "quantitative", "scale": {"domain": [0, 1500], "nice": false, "zero": false}},
       "detail": {"field": "id"},
       "order": {"field": "k"}
      }},
     {"data": {"name": "brC"}, "transform": [{"filter": "datum.cyt == 'IFNγ' && datum.cls == 'bp'"}],
      "mark": {"type": "text", "align": "left", "baseline": "middle", "dx": 3, "dy": 4, "fontWeight": "bold", "opacity": 1},
      "encoding": {
       "y": {"field": "cat", "type": "nominal", "bandPosition": 0.5, "scale": {"domain": ["DEC-HER2+ poly IC+αCD40","Ctrl Ig-HER2+ poly IC+αCD40","poly IC+αCD40","Naive"], "paddingInner": 0.34, "paddingOuter": 0.179}},
       "x": {"field": "xb", "type": "quantitative", "scale": {"domain": [0, 1500], "nice": false, "zero": false}},
       "text": {"field": "label"},
       "size": {"condition": {"test": "datum.label == 'NS'", "value": 17}, "value": 15}
      }},
     {"data": {"name": "brC"}, "transform": [{"filter": "datum.cyt == 'IFNγ' && datum.cls == 'big'"}],
      "mark": {"type": "text", "align": "left", "baseline": "middle", "dx": 3, "dy": 4, "fontWeight": "bold", "opacity": 1},
      "encoding": {
       "y": {"field": "cat", "type": "nominal", "bandPosition": 1.0, "scale": {"domain": ["DEC-HER2+ poly IC+αCD40","Ctrl Ig-HER2+ poly IC+αCD40","poly IC+αCD40","Naive"], "paddingInner": 0.34, "paddingOuter": 0.179}},
       "x": {"field": "xb", "type": "quantitative", "scale": {"domain": [0, 1500], "nice": false, "zero": false}},
       "text": {"field": "label"},
       "size": {"condition": {"test": "datum.label == 'NS'", "value": 17}, "value": 15}
      }}
    ]
   },
   {
    "bounds": "flush", "spacing": 24,
    "resolve": {"scale": {"color": "independent", "yOffset": "independent"}, "legend": {"color": "independent"}},
    "hconcat": [
     {
      "width": 185, "height": 268,
      "layer": [
       {"data": {"name": "C"}, "transform": [{"filter": "datum.cyt == 'IL-4'"}], "mark": {"type": "bar", "opacity": 1},
        "encoding": {
         "y": {"field": "cat", "type": "nominal", "scale": {"domain": ["DEC-HER2+ poly IC+αCD40","Ctrl Ig-HER2+ poly IC+αCD40","poly IC+αCD40","Naive"], "paddingInner": 0.34, "paddingOuter": 0.179},
               "axis": {"title": null, "ticks": false, "labels": false}},
         "yOffset": {"field": "grp", "type": "nominal", "scale": {"domain": ["HER2 pool 5","HIV gag"], "paddingInner": 0.05, "paddingOuter": 0}},
         "x": {"field": "v", "type": "quantitative", "stack": null, "scale": {"domain": [0, 300], "nice": false, "zero": false},
               "axis": {"orient": "top", "values": [100,200,300], "format": "d", "title": "IL-4", "titleFontSize": 23, "labelFontSize": 17, "tickSize": 7, "labelPadding": 10, "titlePadding": 7.5, "labelFlush": false, "labelOverlap": false}},
         "color": {"field": "grp", "type": "nominal", "scale": {"domain": ["HER2 pool 5","HIV gag"], "range": ["#0A96FF","#F97FA6"]}, "legend": null}
        }},
       {"data": {"name": "C"}, "transform": [{"filter": "datum.cyt == 'IL-4'"}], "mark": {"type": "rule", "color": "#000", "strokeWidth": 2, "opacity": 1},
        "encoding": {
         "y": {"field": "cat", "type": "nominal", "scale": {"domain": ["DEC-HER2+ poly IC+αCD40","Ctrl Ig-HER2+ poly IC+αCD40","poly IC+αCD40","Naive"], "paddingInner": 0.34, "paddingOuter": 0.179}},
         "yOffset": {"field": "grp", "type": "nominal", "scale": {"domain": ["HER2 pool 5","HIV gag"], "paddingInner": 0.05, "paddingOuter": 0}},
         "x": {"field": "v", "type": "quantitative", "scale": {"domain": [0, 300], "nice": false, "zero": false}},
         "x2": {"field": "hi"}
        }},
       {"data": {"name": "C"}, "transform": [{"filter": "datum.cyt == 'IL-4'"}], "mark": {"type": "tick", "color": "#000", "thickness": 3.5, "size": 12, "opacity": 1},
        "encoding": {
         "y": {"field": "cat", "type": "nominal", "scale": {"domain": ["DEC-HER2+ poly IC+αCD40","Ctrl Ig-HER2+ poly IC+αCD40","poly IC+αCD40","Naive"], "paddingInner": 0.34, "paddingOuter": 0.179}},
         "yOffset": {"field": "grp", "type": "nominal", "scale": {"domain": ["HER2 pool 5","HIV gag"], "paddingInner": 0.05, "paddingOuter": 0}},
         "x": {"field": "hi", "type": "quantitative", "scale": {"domain": [0, 300], "nice": false, "zero": false}}
        }},
       {"data": {"name": "brkC"}, "transform": [{"filter": "datum.cyt == 'IL-4'"}], "mark": {"type": "line", "color": "#000", "strokeWidth": 2, "strokeJoin": "miter", "opacity": 1},
        "encoding": {
         "y": {"field": "cat", "type": "nominal", "scale": {"domain": ["DEC-HER2+ poly IC+αCD40","Ctrl Ig-HER2+ poly IC+αCD40","poly IC+αCD40","Naive"], "paddingInner": 0.34, "paddingOuter": 0.179}},
         "yOffset": {"field": "grp", "type": "nominal", "scale": {"domain": ["HER2 pool 5","HIV gag"], "paddingInner": 0.05, "paddingOuter": 0}},
         "x": {"field": "x", "type": "quantitative", "scale": {"domain": [0, 300], "nice": false, "zero": false}},
         "detail": {"field": "id"},
         "order": {"field": "k"}
        }},
       {"data": {"name": "brC"}, "transform": [{"filter": "datum.cyt == 'IL-4' && datum.cls == 'big'"}],
        "mark": {"type": "text", "align": "left", "baseline": "middle", "dx": 3, "dy": 4, "fontWeight": "bold", "opacity": 1},
        "encoding": {
         "y": {"field": "cat", "type": "nominal", "bandPosition": 1.0, "scale": {"domain": ["DEC-HER2+ poly IC+αCD40","Ctrl Ig-HER2+ poly IC+αCD40","poly IC+αCD40","Naive"], "paddingInner": 0.34, "paddingOuter": 0.179}},
         "x": {"field": "xb", "type": "quantitative", "scale": {"domain": [0, 300], "nice": false, "zero": false}},
         "text": {"field": "label"},
         "size": {"condition": {"test": "datum.label == 'NS'", "value": 17}, "value": 15}
        }}
      ]
     },
     {
      "bounds": "flush", "spacing": 42,
      "resolve": {"scale": {"color": "independent", "yOffset": "independent"}, "legend": {"color": "independent"}},
      "hconcat": [
       {
        "width": 185, "height": 268,
        "layer": [
         {"data": {"name": "C"}, "transform": [{"filter": "datum.cyt == 'IL-10'"}], "mark": {"type": "bar", "opacity": 1},
          "encoding": {
           "y": {"field": "cat", "type": "nominal", "scale": {"domain": ["DEC-HER2+ poly IC+αCD40","Ctrl Ig-HER2+ poly IC+αCD40","poly IC+αCD40","Naive"], "paddingInner": 0.34, "paddingOuter": 0.179},
                 "axis": {"title": null, "ticks": false, "labels": false}},
           "yOffset": {"field": "grp", "type": "nominal", "scale": {"domain": ["HER2 pool 5","HIV gag"], "paddingInner": 0.05, "paddingOuter": 0}},
           "x": {"field": "v", "type": "quantitative", "stack": null, "scale": {"domain": [0, 300], "nice": false, "zero": false},
                 "axis": {"orient": "top", "values": [100,200,300], "format": "d", "title": "IL-10", "titleFontSize": 23, "labelFontSize": 17, "tickSize": 7, "labelPadding": 10, "titlePadding": 7.5, "labelFlush": false, "labelOverlap": false}},
           "color": {"field": "grp", "type": "nominal", "scale": {"domain": ["HER2 pool 5","HIV gag"], "range": ["#0A96FF","#F97FA6"]}, "legend": null}
          }},
         {"data": {"name": "C"}, "transform": [{"filter": "datum.cyt == 'IL-10'"}], "mark": {"type": "rule", "color": "#000", "strokeWidth": 2, "opacity": 1},
          "encoding": {
           "y": {"field": "cat", "type": "nominal", "scale": {"domain": ["DEC-HER2+ poly IC+αCD40","Ctrl Ig-HER2+ poly IC+αCD40","poly IC+αCD40","Naive"], "paddingInner": 0.34, "paddingOuter": 0.179}},
           "yOffset": {"field": "grp", "type": "nominal", "scale": {"domain": ["HER2 pool 5","HIV gag"], "paddingInner": 0.05, "paddingOuter": 0}},
           "x": {"field": "v", "type": "quantitative", "scale": {"domain": [0, 300], "nice": false, "zero": false}},
           "x2": {"field": "hi"}
          }},
         {"data": {"name": "C"}, "transform": [{"filter": "datum.cyt == 'IL-10'"}], "mark": {"type": "tick", "color": "#000", "thickness": 3.5, "size": 12, "opacity": 1},
          "encoding": {
           "y": {"field": "cat", "type": "nominal", "scale": {"domain": ["DEC-HER2+ poly IC+αCD40","Ctrl Ig-HER2+ poly IC+αCD40","poly IC+αCD40","Naive"], "paddingInner": 0.34, "paddingOuter": 0.179}},
           "yOffset": {"field": "grp", "type": "nominal", "scale": {"domain": ["HER2 pool 5","HIV gag"], "paddingInner": 0.05, "paddingOuter": 0}},
           "x": {"field": "hi", "type": "quantitative", "scale": {"domain": [0, 300], "nice": false, "zero": false}}
          }},
         {"data": {"name": "brkC"}, "transform": [{"filter": "datum.cyt == 'IL-10'"}], "mark": {"type": "line", "color": "#000", "strokeWidth": 2, "strokeJoin": "miter", "opacity": 1},
          "encoding": {
           "y": {"field": "cat", "type": "nominal", "scale": {"domain": ["DEC-HER2+ poly IC+αCD40","Ctrl Ig-HER2+ poly IC+αCD40","poly IC+αCD40","Naive"], "paddingInner": 0.34, "paddingOuter": 0.179}},
           "yOffset": {"field": "grp", "type": "nominal", "scale": {"domain": ["HER2 pool 5","HIV gag"], "paddingInner": 0.05, "paddingOuter": 0}},
           "x": {"field": "x", "type": "quantitative", "scale": {"domain": [0, 300], "nice": false, "zero": false}},
           "detail": {"field": "id"},
           "order": {"field": "k"}
          }},
         {"data": {"name": "brC"}, "transform": [{"filter": "datum.cyt == 'IL-10' && datum.cls == 'big'"}],
          "mark": {"type": "text", "align": "left", "baseline": "middle", "dx": 3, "dy": 4, "fontWeight": "bold", "opacity": 1},
          "encoding": {
           "y": {"field": "cat", "type": "nominal", "bandPosition": 1.0, "scale": {"domain": ["DEC-HER2+ poly IC+αCD40","Ctrl Ig-HER2+ poly IC+αCD40","poly IC+αCD40","Naive"], "paddingInner": 0.34, "paddingOuter": 0.179}},
           "x": {"field": "xb", "type": "quantitative", "scale": {"domain": [0, 300], "nice": false, "zero": false}},
           "text": {"field": "label"},
           "size": {"condition": {"test": "datum.label == 'NS'", "value": 17}, "value": 15}
          }}
        ]
       },
       {
        "width": 181, "height": 268,
        "title": {"text": "(pg/ml)", "anchor": "end", "frame": "group", "dx": 92, "dy": 57.5, "fontSize": 18},
        "layer": [
         {"data": {"name": "C"}, "transform": [{"filter": "datum.cyt == 'IL-17'"}], "mark": {"type": "bar", "opacity": 1},
          "encoding": {
           "y": {"field": "cat", "type": "nominal", "scale": {"domain": ["DEC-HER2+ poly IC+αCD40","Ctrl Ig-HER2+ poly IC+αCD40","poly IC+αCD40","Naive"], "paddingInner": 0.34, "paddingOuter": 0.179},
                 "axis": {"title": null, "ticks": false, "labels": false}},
           "yOffset": {"field": "grp", "type": "nominal", "scale": {"domain": ["HER2 pool 5","HIV gag"], "paddingInner": 0.05, "paddingOuter": 0}},
           "x": {"field": "v", "type": "quantitative", "stack": null, "scale": {"domain": [0, 300], "nice": false, "zero": false},
                 "axis": {"orient": "top", "values": [100,200,300], "format": "d", "title": "IL-17", "titleFontSize": 23, "labelFontSize": 17, "tickSize": 7, "labelPadding": 10, "titlePadding": 7.5, "labelFlush": false, "labelOverlap": false}},
           "color": {"field": "grp", "type": "nominal", "scale": {"domain": ["HER2 pool 5","HIV gag"], "range": ["#0A96FF","#F97FA6"]},
                 "legend": {"orient": "none", "legendX": 80, "legendY": 212, "direction": "vertical", "title": null, "symbolType": "M-1,-0.62H1V0.62H-1Z", "symbolSize": 676, "symbolStrokeWidth": 0, "labelFontSize": 19, "labelFontWeight": "bold", "labelFont": "Liberation Sans", "labelColor": "#000", "labelOffset": 9, "rowPadding": 9, "labelLimit": 300}}
          }},
         {"data": {"name": "C"}, "transform": [{"filter": "datum.cyt == 'IL-17'"}], "mark": {"type": "rule", "color": "#000", "strokeWidth": 2, "opacity": 1},
          "encoding": {
           "y": {"field": "cat", "type": "nominal", "scale": {"domain": ["DEC-HER2+ poly IC+αCD40","Ctrl Ig-HER2+ poly IC+αCD40","poly IC+αCD40","Naive"], "paddingInner": 0.34, "paddingOuter": 0.179}},
           "yOffset": {"field": "grp", "type": "nominal", "scale": {"domain": ["HER2 pool 5","HIV gag"], "paddingInner": 0.05, "paddingOuter": 0}},
           "x": {"field": "v", "type": "quantitative", "scale": {"domain": [0, 300], "nice": false, "zero": false}},
           "x2": {"field": "hi"}
          }},
         {"data": {"name": "C"}, "transform": [{"filter": "datum.cyt == 'IL-17'"}], "mark": {"type": "tick", "color": "#000", "thickness": 3.5, "size": 12, "opacity": 1},
          "encoding": {
           "y": {"field": "cat", "type": "nominal", "scale": {"domain": ["DEC-HER2+ poly IC+αCD40","Ctrl Ig-HER2+ poly IC+αCD40","poly IC+αCD40","Naive"], "paddingInner": 0.34, "paddingOuter": 0.179}},
           "yOffset": {"field": "grp", "type": "nominal", "scale": {"domain": ["HER2 pool 5","HIV gag"], "paddingInner": 0.05, "paddingOuter": 0}},
           "x": {"field": "hi", "type": "quantitative", "scale": {"domain": [0, 300], "nice": false, "zero": false}}
          }},
         {"data": {"name": "brkC"}, "transform": [{"filter": "datum.cyt == 'IL-17'"}], "mark": {"type": "line", "color": "#000", "strokeWidth": 2, "strokeJoin": "miter", "opacity": 1},
          "encoding": {
           "y": {"field": "cat", "type": "nominal", "scale": {"domain": ["DEC-HER2+ poly IC+αCD40","Ctrl Ig-HER2+ poly IC+αCD40","poly IC+αCD40","Naive"], "paddingInner": 0.34, "paddingOuter": 0.179}},
           "yOffset": {"field": "grp", "type": "nominal", "scale": {"domain": ["HER2 pool 5","HIV gag"], "paddingInner": 0.05, "paddingOuter": 0}},
           "x": {"field": "x", "type": "quantitative", "scale": {"domain": [0, 300], "nice": false, "zero": false}},
           "detail": {"field": "id"},
           "order": {"field": "k"}
          }},
         {"data": {"name": "brC"}, "transform": [{"filter": "datum.cyt == 'IL-17' && datum.cls == 'big'"}],
          "mark": {"type": "text", "align": "left", "baseline": "middle", "dx": 3, "dy": 4, "fontWeight": "bold", "opacity": 1},
          "encoding": {
           "y": {"field": "cat", "type": "nominal", "bandPosition": 1.0, "scale": {"domain": ["DEC-HER2+ poly IC+αCD40","Ctrl Ig-HER2+ poly IC+αCD40","poly IC+αCD40","Naive"], "paddingInner": 0.34, "paddingOuter": 0.179}},
           "x": {"field": "xb", "type": "quantitative", "scale": {"domain": [0, 300], "nice": false, "zero": false}},
           "text": {"field": "label"},
           "size": {"condition": {"test": "datum.label == 'NS'", "value": 17}, "value": 15}
          }}
        ]
       }
      ]
     }
    ]
   }
  ]
 }
]
}
